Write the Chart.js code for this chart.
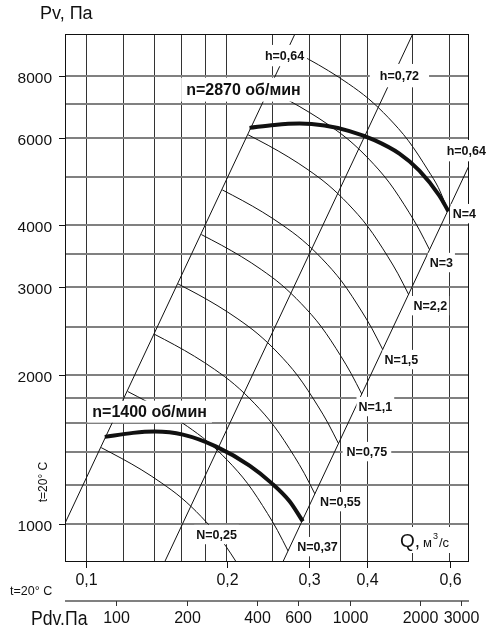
<!DOCTYPE html>
<html><head><meta charset="utf-8">
<script src="https://cdn.jsdelivr.net/npm/chart.js@4.4.1/dist/chart.umd.min.js"></script>
<style>html,body{margin:0;padding:0;background:#fff;overflow:hidden;}#wrap{width:500px;height:627px;}canvas{display:block;}</style>
</head><body><div id="wrap"><canvas id="c" width="500" height="627"></canvas></div>
<script>
// ---- axes ----
const yTickLabels = [1000, 2000, 3000, 4000, 6000, 8000];
const yGridValues = [1000, 1200, 1400, 1600, 1800, 2000, 2500, 3000, 3500, 4000, 5000, 6000, 7000, 8000];
const xTickLabels = [0.1, 0.2, 0.3, 0.4, 0.6];
const xGridValues = [0.1, 0.12, 0.14, 0.16, 0.18, 0.2, 0.25, 0.3, 0.35, 0.4, 0.5, 0.6];
const pdvTickLabels = [100, 200, 400, 600, 1000, 2000, 3000];

// ---- fan curves (Q m3/s, Pv Pa) ----
const q2870 = [0.2236, 0.2529, 0.2861, 0.3236, 0.3660, 0.4140, 0.4682, 0.5167, 0.5702, 0.5961];
const p2870 = [6279, 6366, 6405, 6346, 6186, 5933, 5573, 5152, 4587, 4266];
const q1400 = [0.1095, 0.1259, 0.1401, 0.161, 0.1898, 0.2236, 0.2489, 0.2724, 0.2908];
const p1400 = [1500, 1528, 1537, 1516, 1434, 1313, 1212, 1113, 1014];

// ---- power lines N, kW ----
const qN025 = [0.1076, 0.1187, 0.1310, 0.1446, 0.1596, 0.1761, 0.1943, 0.2144, 0.2253, 0.2373];
const pN025 = [1427, 1359, 1289, 1213, 1132, 1037, 932, 811, 749, 681];
const qN037 = [0.1226, 0.1353, 0.1493, 0.1647, 0.1818, 0.2006, 0.2214, 0.2443, 0.2567, 0.2704];
const pN037 = [1851, 1763, 1672, 1574, 1468, 1345, 1209, 1052, 972, 884];
const qN055 = [0.1399, 0.1544, 0.1704, 0.1880, 0.2074, 0.2289, 0.2526, 0.2788, 0.2929, 0.3086];
const pN055 = [2413, 2298, 2179, 2052, 1914, 1753, 1575, 1371, 1267, 1152];
const qN075 = [0.1572, 0.1735, 0.1914, 0.2112, 0.2331, 0.2572, 0.2838, 0.3132, 0.3291, 0.3468];
const pN075 = [3046, 2901, 2751, 2590, 2416, 2213, 1989, 1731, 1600, 1454];
const qN11 = [0.1763, 0.1945, 0.2147, 0.2369, 0.2614, 0.2885, 0.3183, 0.3513, 0.3691, 0.3889];
const pN11 = [3830, 3648, 3459, 3257, 3038, 2782, 2501, 2176, 2011, 1829];
const qN15 = [0.1955, 0.2157, 0.2381, 0.2627, 0.2899, 0.3199, 0.3530, 0.3895, 0.4093, 0.4312];
const pN15 = [4710, 4486, 4254, 4005, 3736, 3422, 3075, 2676, 2474, 2249];
const qN22 = [0.2221, 0.2451, 0.2705, 0.2985, 0.3293, 0.3634, 0.4010, 0.4425, 0.4650, 0.4899];
const pN22 = [6080, 5791, 5491, 5170, 4823, 4417, 3970, 3455, 3193, 2903];
const qN3 = [0.2463, 0.2718, 0.2999, 0.3310, 0.3652, 0.4030, 0.4447, 0.4908, 0.5157, 0.5433];
const pN3 = [7477, 7122, 6752, 6358, 5931, 5432, 4882, 4248, 3927, 3570];
const qN4 = [0.2711, 0.2992, 0.3301, 0.3643, 0.4020, 0.4436, 0.4895, 0.5402, 0.5676, 0.5961];
const pN4 = [9059, 8629, 8181, 7703, 7187, 6581, 5915, 5147, 4758, 4266];

// ---- efficiency lines ----
const qH064a = [0.09, 0.2797];  const pH064a = [1005, 9700];
const qH072 = [0.1471, 0.5];     const pH072 = [840, 9700];
const qH064b = [0.2635, 0.66];   const pH064b = [840, 5270];

const FONT = '"Liberation Sans", Arial, Helvetica, sans-serif';

function series(qs, ps, width, smooth) {
  return {
    data: qs.map((q, i) => ({x: q, y: ps[i]})),
    showLine: true, borderColor: '#111', backgroundColor: '#111',
    borderWidth: width, pointRadius: 0, pointHoverRadius: 0, fill: false,
    tension: 0, cubicInterpolationMode: smooth ? 'monotone' : 'default'
  };
}

const datasets = [
  series(qH064a, pH064a, 1, false),
  series(qH072, pH072, 1, false),
  series(qH064b, pH064b, 1, false),
  series(qN025, pN025, 1, true),
  series(qN037, pN037, 1, true),
  series(qN055, pN055, 1, true),
  series(qN075, pN075, 1, true),
  series(qN11, pN11, 1, true),
  series(qN15, pN15, 1, true),
  series(qN22, pN22, 1, true),
  series(qN3, pN3, 1, true),
  series(qN4, pN4, 1, true),
  series(q1400, p1400, 4, true),
  series(q2870, p2870, 4, true)
];

// annotations: text, anchor in data coords, style
const notes = [
  {t: 'n=2870 об/мин', q: 0.2170, p: 7496, size: 16, px: 5, py: 6},
  {t: 'n=1400 об/мин', q: 0.1366, p: 1686, size: 16, px: 5, py: 5},
  {t: 'h=0,64', q: 0.2657, p: 8776, size: 12.5, px: 3, py: 6},
  {t: 'h=0,72', q: 0.4683, p: 7998, size: 12.5, px: 10, py: 7},
  {t: 'h=0,64', q: 0.6512, p: 5650, size: 12.5, px: 3, py: 6},
  {t: 'N=4', q: 0.6448, p: 4220, size: 12.5, px: 2, py: 5},
  {t: 'N=3', q: 0.5757, p: 3364, size: 12.5, px: 2, py: 5},
  {t: 'N=2,2', q: 0.5454, p: 2755, size: 12.5, px: 2, py: 5},
  {t: 'N=1,5', q: 0.4729, p: 2146, size: 12.5, px: 2, py: 5},
  {t: 'N=1,1', q: 0.4159, p: 1726, size: 12.5, px: 2, py: 5},
  {t: 'N=0,75', q: 0.3989, p: 1401, size: 12.5, px: 4, py: 5},
  {t: 'N=0,55', q: 0.3501, p: 1111, size: 12.5, px: 2, py: 5},
  {t: 'N=0,37', q: 0.3126, p: 902, size: 12.5, px: 2, py: 5},
  {t: 'N=0,25', q: 0.1900, p: 954, size: 12.5, px: 2, py: 5}
];

const fmt = v => String(v).replace('.', ',');

const decor = {
  id: 'decor',
  afterDatasetsDraw(chart) {
    const {ctx, chartArea: a, scales} = chart;
    const sx = scales.x, sy = scales.y, sx2 = scales.x2;
    ctx.save();
    // frame
    ctx.strokeStyle = '#111'; ctx.lineWidth = 1;
    ctx.strokeRect(Math.round(a.left) + 0.5, Math.round(a.top) + 0.5,
                   Math.round(a.right - a.left) - 1, Math.round(a.bottom - a.top) - 1);
    // y ticks + labels
    ctx.fillStyle = '#111';
    ctx.font = '15.5px ' + FONT;
    ctx.textAlign = 'right'; ctx.textBaseline = 'alphabetic';
    yTickLabels.forEach(v => {
      const py = Math.round(sy.getPixelForValue(v)) + 0.5;
      ctx.beginPath(); ctx.moveTo(a.left - 6, py); ctx.lineTo(a.left, py); ctx.stroke();
      ctx.fillText(String(v), a.left - 13, py + 6);
    });
    // x ticks + labels
    ctx.font = '16px ' + FONT;
    ctx.textAlign = 'center';
    xTickLabels.forEach(v => {
      const px = Math.round(sx.getPixelForValue(v)) + 0.5;
      ctx.beginPath(); ctx.moveTo(px, a.bottom); ctx.lineTo(px, a.bottom + 6); ctx.stroke();
      ctx.fillText(fmt(v), px, a.bottom + 23);
    });
    // Pdv axis
    const yp = a.bottom + 39;
    ctx.strokeStyle = '#808080'; ctx.lineWidth = 2;
    ctx.beginPath(); ctx.moveTo(a.left, yp); ctx.lineTo(a.right, yp); ctx.stroke();
    ctx.strokeStyle = '#333'; ctx.lineWidth = 1;
    ctx.font = '16px ' + FONT;
    pdvTickLabels.forEach(v => {
      const px = Math.round(sx2.getPixelForValue(v)) + 0.5;
      ctx.beginPath(); ctx.moveTo(px, yp); ctx.lineTo(px, yp + 5); ctx.stroke();
      ctx.fillText(String(v), px, yp + 22);
    });
    // annotations with white boxes
    notes.forEach(n => {
      const cx = sx.getPixelForValue(n.q), cy = sy.getPixelForValue(n.p);
      ctx.font = 'bold ' + n.size + 'px ' + FONT;
      const w = ctx.measureText(n.t).width, h = n.size * 0.75;
      ctx.fillStyle = '#fff';
      ctx.fillRect(cx - w / 2 - n.px, cy - h / 2 - n.py, w + 2 * n.px, h + 2 * n.py);
      ctx.fillStyle = '#111';
      ctx.textAlign = 'center'; ctx.textBaseline = 'middle';
      ctx.fillText(n.t, cx, cy + 1);
    });
    // Q, m3/s label
    const qx = a.right - 69, qb = a.bottom - 15;
    ctx.fillStyle = '#fff';
    ctx.fillRect(qx - 4, qb - 20, 66, 26);
    ctx.fillStyle = '#111';
    ctx.textAlign = 'left'; ctx.textBaseline = 'alphabetic';
    ctx.font = '19px ' + FONT; ctx.fillText('Q,', qx, qb);
    let ox = qx + ctx.measureText('Q,').width + 3;
    ctx.font = '13px ' + FONT; ctx.fillText('м', ox, qb);
    ox += ctx.measureText('м').width + 1;
    ctx.font = '9px ' + FONT; ctx.fillText('3', ox, qb - 8);
    ox += ctx.measureText('3').width + 1;
    ctx.font = '13px ' + FONT; ctx.fillText('/с', ox, qb);
    // axis titles
    ctx.font = '18px ' + FONT;
    ctx.fillText('Pv, Па', 40, 19);
    ctx.save();
    ctx.translate(31, yp + 24); ctx.scale(0.86, 1);
    ctx.font = '20.5px ' + FONT;
    ctx.fillText('Pdv.Па', 0, 0);
    ctx.restore();
    ctx.font = '12.5px ' + FONT;
    ctx.fillText('t=20° C', 10, a.bottom + 33);
    ctx.save();
    ctx.translate(47, 482); ctx.rotate(-Math.PI / 2);
    ctx.textAlign = 'center';
    ctx.font = '12px ' + FONT;
    ctx.fillText('t=20° C', 0, 0);
    ctx.restore();
    ctx.restore();
  }
};

new Chart(document.getElementById('c'), {
  type: 'scatter',
  data: {datasets},
  options: {
    responsive: false, animation: false,
    layout: {padding: {left: 65, right: 31, top: 34, bottom: 65}},
    plugins: {legend: {display: false}, tooltip: {enabled: false}},
    events: [],
    scales: {
      x: {
        type: 'logarithmic', min: 0.09, max: 0.66, bounds: 'data',
        afterBuildTicks: s => { s.ticks = xGridValues.map(v => ({value: v})); },
        ticks: {display: false},
        grid: {color: '#333', lineWidth: 1, drawTicks: false},
        border: {display: false}
      },
      y: {
        type: 'logarithmic', min: 840, max: 9700, bounds: 'data',
        afterBuildTicks: s => { s.ticks = yGridValues.map(v => ({value: v})); },
        ticks: {display: false},
        grid: {color: '#808080', lineWidth: 2, drawTicks: false},
        border: {display: false}
      },
      x2: {
        type: 'logarithmic', axis: 'x', position: 'bottom', min: 60.2, max: 3237,
        display: false
      }
    }
  },
  plugins: [decor]
});
</script>
</body></html>
